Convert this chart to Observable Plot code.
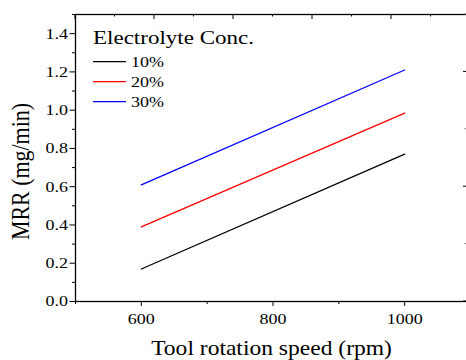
<!DOCTYPE html>
<html><head><meta charset="utf-8">
<script src="https://cdn.jsdelivr.net/npm/d3@7"></script>
<script src="https://cdn.jsdelivr.net/npm/@observablehq/plot@0.6"></script>
<style>
html,body{margin:0;padding:0;background:#fff;overflow:hidden;}
#chart{width:466px;height:360px;overflow:hidden;}
</style></head><body><div id="chart"></div>
<script>
const series = ["10%", "20%", "30%"];
const seriesColors = ["#000000", "#ff0000", "#0000ff"];
const speed = [600, 1000];
const mrr10 = [0.17, 0.77];
const mrr20 = [0.39, 0.985];
const mrr30 = [0.61, 1.21];
const xMajorTicks = [600, 800, 1000];
const xMinorTicks = [500, 700, 900, 1100];
const yMajorTicks = [0, 0.2, 0.4, 0.6, 0.8, 1.0, 1.2, 1.4];
const yMinorTicks = [0.1, 0.3, 0.5, 0.7, 0.9, 1.1, 1.3, 1.5];
const topMajorTicks = [500, 620, 740, 860, 980, 1100];
const topMinorTicks = [560, 680, 800, 920, 1040];
const rightMajorTicks = [0, 0.6, 1.2];
const rightMinorTicks = [0.3, 0.9, 1.5];
const xLabel = "Tool rotation speed (rpm)";
const yLabel = "MRR (mg/min)";
const legendTitle = "Electrolyte Conc.";

const data = [];
[mrr10, mrr20, mrr30].forEach((vals, k) =>
  speed.forEach((s, i) => data.push({series: series[k], speed: s, mrr: vals[i]})));

function frameTicks(index, scales, values, dims) {
  const {x, y} = scales;
  const g = d3.create("svg:g").attr("stroke", "#000").attr("stroke-width", 1);
  const yTop = y(1.5), xRight = x(1100);
  topMajorTicks.forEach(v => g.append("line").attr("x1", x(v)).attr("x2", x(v)).attr("y1", yTop).attr("y2", yTop + 5));
  topMinorTicks.forEach(v => g.append("line").attr("x1", x(v)).attr("x2", x(v)).attr("y1", yTop).attr("y2", yTop + 2.5));
  rightMajorTicks.forEach(v => g.append("line").attr("y1", y(v)).attr("y2", y(v)).attr("x1", xRight - 7).attr("x2", xRight));
  rightMinorTicks.forEach(v => g.append("line").attr("y1", y(v)).attr("y2", y(v)).attr("x1", xRight - 5.5).attr("x2", xRight).attr("stroke", "#666"));
  return g.node();
}

function legendMark(index, scales, values, dims) {
  const g = d3.create("svg:g").attr("font-family", "Liberation Serif").attr("fill", "#000")
    .attr("text-anchor", "start");
  const x0 = dims.marginLeft + 18;
  g.append("text").attr("x", x0).attr("y", dims.marginTop + 30).attr("font-size", 19)
    .attr("data-len", 161).text(legendTitle);
  series.forEach((s, i) => {
    const yy = dims.marginTop + 47.7 + i * 20;
    g.append("line").attr("x1", x0).attr("x2", x0 + 33).attr("y1", yy).attr("y2", yy)
      .attr("stroke", seriesColors[i]).attr("stroke-width", 1.3);
    g.append("text").attr("x", x0 + 38).attr("y", yy).attr("dy", "0.32em").attr("font-size", 15.5).text(s);
  });
  return g.node();
}

const plot = Plot.plot({
  width: 466, height: 360,
  marginLeft: 75, marginRight: -4, marginTop: 14, marginBottom: 59,
  style: {fontFamily: "Liberation Serif", background: "#fff", color: "#000"},
  x: {domain: [500, 1100]},
  y: {domain: [0, 1.5]},
  color: {domain: series, range: seriesColors},
  marks: [
    Plot.axisX(xMajorTicks, {tickSize: 5, tickPadding: 6.5, fontSize: 15.5, label: null, tickFormat: d3.format("d")}),
    Plot.axisX(xMinorTicks, {tickSize: 3, tickFormat: () => "", label: null}),
    Plot.axisY(yMajorTicks, {tickSize: 5.5, tickPadding: 2, fontSize: 15.5, label: null, tickFormat: d3.format(".1f")}),
    Plot.axisY(yMinorTicks, {tickSize: 3, tickFormat: () => "", label: null}),
    Plot.line(data, {x: "speed", y: "mrr", stroke: "series", strokeWidth: 1.3}),
    Plot.frame({stroke: "#000", strokeWidth: 1.3}),
    frameTicks,
    legendMark,
    Plot.text([xLabel], {frameAnchor: "bottom", dx: -1.5, dy: 46.6, fontSize: 20.3, textAnchor: "middle", lineAnchor: "middle"}),
    Plot.text([yLabel], {frameAnchor: "left", rotate: -90, dx: -55, dy: 13.5, fontSize: 25, textAnchor: "middle", lineAnchor: "middle"})
  ]
});
document.getElementById("chart").appendChild(plot);

// horizontal stretch of text as in the reference image
plot.querySelectorAll("text").forEach(t => {
  const txt = t.textContent;
  if (!txt) return;
  const natural = t.getComputedTextLength();
  let target;
  if (txt === yLabel) target = 137;
  else if (t.getAttribute("data-len")) target = +t.getAttribute("data-len");
  else target = natural * 1.16;
  t.setAttribute("textLength", target);
  t.setAttribute("lengthAdjust", "spacingAndGlyphs");
});
</script>
</body></html>
